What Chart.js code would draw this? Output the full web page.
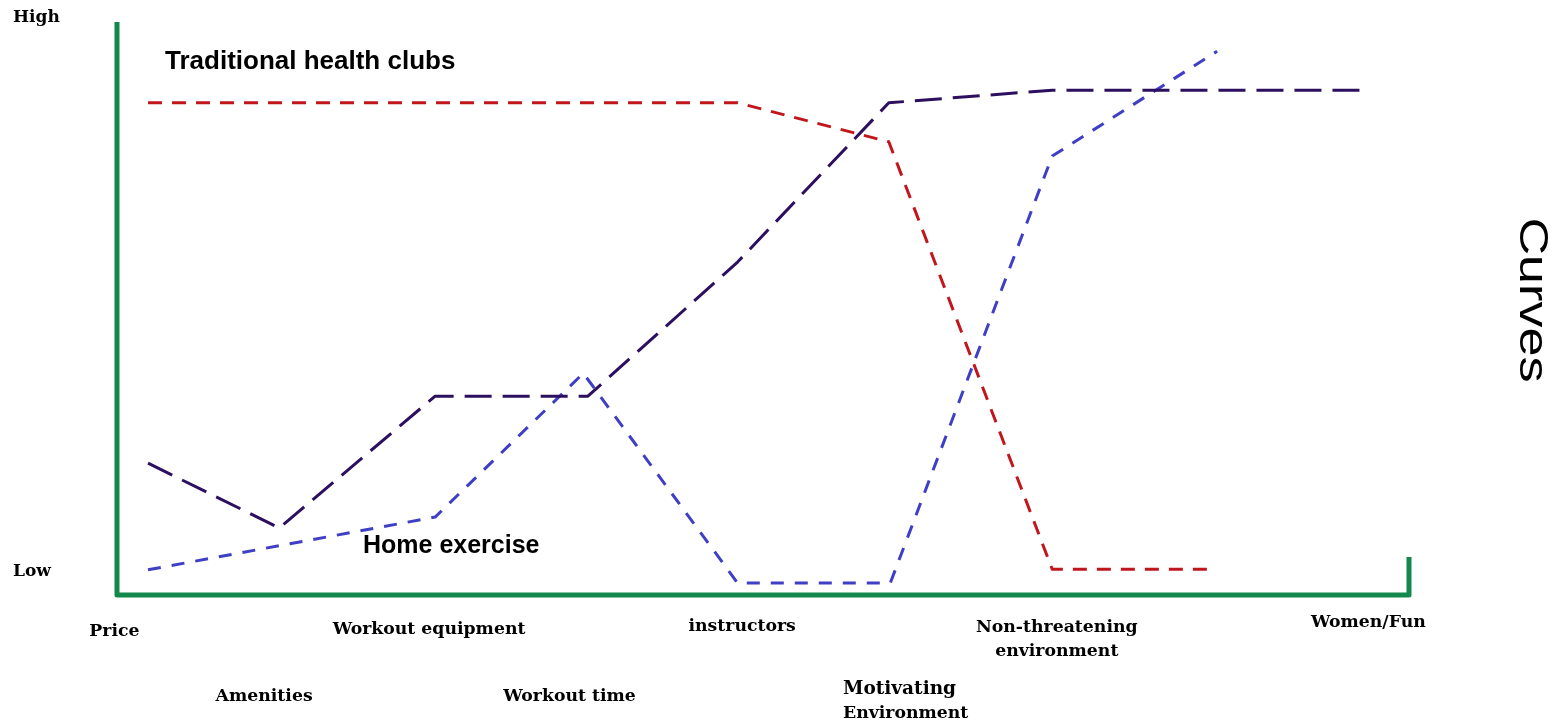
<!DOCTYPE html>
<html>
<head>
<meta charset="utf-8">
<title>Curves</title>
<script src="https://cdn.jsdelivr.net/npm/chart.js@4.4.1/dist/chart.umd.min.js"></script>
<style>
  html, body { margin: 0; padding: 0; background: #ffffff; }
  #wrap { width: 1565px; height: 724px; }
</style>
</head>
<body>
<div id="wrap"><canvas id="chart" width="1565" height="724"></canvas></div>
<script>
// Attribute positions along the x axis (0 = Price ... 8 = Women/Fun)
const clubX  = [0, 3.86, 4.85, 5.92, 6.96];
const clubY  = [8.59, 8.59, 7.91, 0.45, 0.45];

const curvesX = [0, 0.86, 1.88, 2.88, 3.86, 4.85, 5.92, 8];
const curvesY = [2.30, 1.17, 3.47, 3.47, 5.81, 8.59, 8.81, 8.81];

const homeX  = [0, 1.88, 2.85, 3.86, 4.86, 5.92, 7.0];
const homeY  = [0.44, 1.36, 3.87, 0.21, 0.21, 7.66, 9.49];

const seriesNames = ['Traditional health clubs', 'Curves', 'Home exercise'];
const categoryLabels = [
  ['Price'], ['Amenities'], ['Workout equipment'], ['Workout time'],
  ['instructors'], ['Motivating', 'Environment'],
  ['Non-threatening', 'environment'], ['Women/Fun']
];
const levelLabels = ['Low', 'High'];

// Placement of the attribute captions below the axis: x in axis units, row, alignment
const captionPlacement = [
  { x: -0.22, y: 632, align: 'center' },
  { x: 0.76,  y: 697, align: 'center' },
  { x: 1.84,  y: 630, align: 'center' },
  { x: 2.76,  y: 697, align: 'center' },
  { x: 3.89,  y: 627, align: 'center' },
  { x: 4.55,  y: 689, align: 'left', lead: 25 },
  { x: 5.95,  y: 628, align: 'center', lead: 24 },
  { x: 7.99,  y: 623, align: 'center' }
];

const SLAB = '"DejaVu Serif", serif';
const SANS = '"Liberation Sans", Arial, sans-serif';
const GREEN = '#12894a';

function pts(xs, ys) { return xs.map((x, i) => ({ x: x, y: ys[i] })); }

const frame = {
  id: 'frame',
  afterDatasetsDraw(chart) {
    const { ctx, chartArea: a, scales } = chart;
    const sx = scales.x;
    ctx.save();
    // green axes
    ctx.strokeStyle = GREEN;
    ctx.lineWidth = 5;
    ctx.lineJoin = 'round';
    ctx.lineCap = 'butt';
    ctx.beginPath();
    ctx.moveTo(a.left, a.top);
    ctx.lineTo(a.left, a.bottom);
    ctx.lineTo(a.right, a.bottom);
    ctx.lineTo(a.right, a.bottom - 38);
    ctx.stroke();

    // level labels
    ctx.fillStyle = '#000';
    ctx.font = 'bold 17px ' + SLAB;
    ctx.textAlign = 'left';
    ctx.textBaseline = 'middle';
    ctx.fillText(levelLabels[1], 13, 18);
    ctx.fillText(levelLabels[0], 13, 572);

    // series captions
    ctx.font = 'bold 26px ' + SANS;
    ctx.fillText(seriesNames[0], 165, 62);
    ctx.font = 'bold 25px ' + SANS;
    ctx.fillText(seriesNames[2], 363, 546);

    // attribute captions
    categoryLabels.forEach((lines, i) => {
      const p = captionPlacement[i];
      const px = sx.getPixelForValue(p.x);
      ctx.textAlign = p.align;
      lines.forEach((t, j) => {
        ctx.font = (i === 5 && j === 0) ? 'bold 18.5px ' + SLAB : 'bold 17.3px ' + SLAB;
        ctx.fillText(t, px, p.y + j * (p.lead || 0));
      });
    });

    // rotated series name on the right
    ctx.font = '41px ' + SANS;
    const w = ctx.measureText(seriesNames[1]).width;
    ctx.translate(1520, 300);
    ctx.rotate(Math.PI / 2);
    ctx.scale(165 / w, 1);
    ctx.textAlign = 'center';
    ctx.textBaseline = 'alphabetic';
    ctx.fillText(seriesNames[1], 0, 0);
    ctx.restore();
  }
};

new Chart(document.getElementById('chart'), {
  type: 'line',
  data: {
    datasets: [
      {
        label: seriesNames[0],
        data: pts(clubX, clubY),
        borderColor: '#c0161c',
        borderWidth: 3,
        borderDash: [14, 10]
      },
      {
        label: seriesNames[1],
        data: pts(curvesX, curvesY),
        borderColor: '#2c0f5e',
        borderWidth: 3,
        borderDash: [27, 11]
      },
      {
        label: seriesNames[2],
        data: pts(homeX, homeY),
        borderColor: '#3f3fc6',
        borderWidth: 3,
        borderDash: [13, 11]
      }
    ]
  },
  options: {
    responsive: false,
    animation: false,
    layout: { padding: { left: 117, right: 156, top: 22, bottom: 129 } },
    elements: {
      point: { radius: 0, hoverRadius: 0 },
      line: { tension: 0, fill: false, borderCapStyle: 'butt', borderJoinStyle: 'round' }
    },
    scales: {
      x: { type: 'linear', display: false, min: -0.203, max: 8.256 },
      y: { type: 'linear', display: false, min: 0, max: 10 }
    },
    plugins: {
      legend: { display: false },
      tooltip: { enabled: false }
    }
  },
  plugins: [frame]
});
</script>
</body>
</html>
